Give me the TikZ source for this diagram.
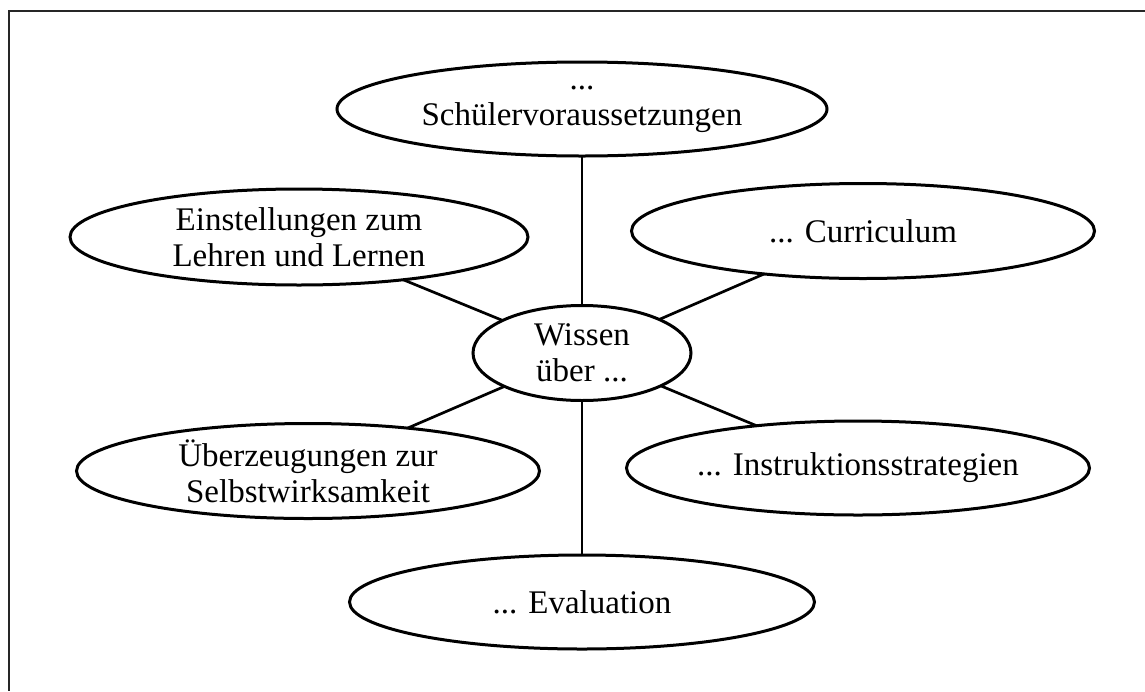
\documentclass[tikz,border=0pt]{standalone}
\usepackage{fontspec}
\setmainfont{Liberation Serif}
\usetikzlibrary{shapes.geometric}
\begin{document}
\begin{tikzpicture}[x=1pt,y=-1pt,
  oval/.style={ellipse, draw, line width=3pt, inner sep=0pt, outer sep=0pt},
  lbl/.style={align=center, font=\fontsize{33}{36}\selectfont, inner sep=0pt},
  link/.style={line width=2.7pt}]
\useasboundingbox (0,0) rectangle (1145,691);
\fill[white] (0,0) rectangle (1145,691);
% surrounding frame (open to the right and bottom)
\draw[line width=2pt, black!85] (1145,11) -- (9,11) -- (9,691);

% central concept
\node[oval, minimum width=218pt, minimum height=95pt,
  label={[lbl]center:{Wissen\\über ...}}] (wis) at (582,353) {};

% surrounding concepts
\node[oval, minimum width=490pt, minimum height=94pt,
  label={[lbl]center:{...\\Schülervoraussetzungen}}] (top) at (582,109) {};
\node[oval, minimum width=458pt, minimum height=96pt,
  label={[lbl]center:{Einstellungen zum\\Lehren und Lernen}}] (att) at (299,237) {};
\node[oval, minimum width=463pt, minimum height=95pt,
  label={[lbl]center:{... Curriculum}}] (cur) at (863,231) {};
\node[oval, minimum width=463pt, minimum height=95pt,
  label={[lbl]center:{Überzeugungen zur\\Selbstwirksamkeit}}] (eff) at (308,471) {};
\node[oval, minimum width=463pt, minimum height=94pt,
  label={[lbl]center:{... Instruktionsstrategien}}] (ins) at (858,468) {};
\node[oval, minimum width=465pt, minimum height=94pt,
  label={[lbl]center:{... Evaluation}}] (eva) at (582,602) {};

% connectors from the centre to every concept
\draw[link] (wis) -- (top);
\draw[link] (wis) -- (att);
\draw[link] (wis) -- (cur);
\draw[link] (wis) -- (eff);
\draw[link] (wis) -- (ins);
\draw[link] (wis) -- (eva);
\end{tikzpicture}
\end{document}
